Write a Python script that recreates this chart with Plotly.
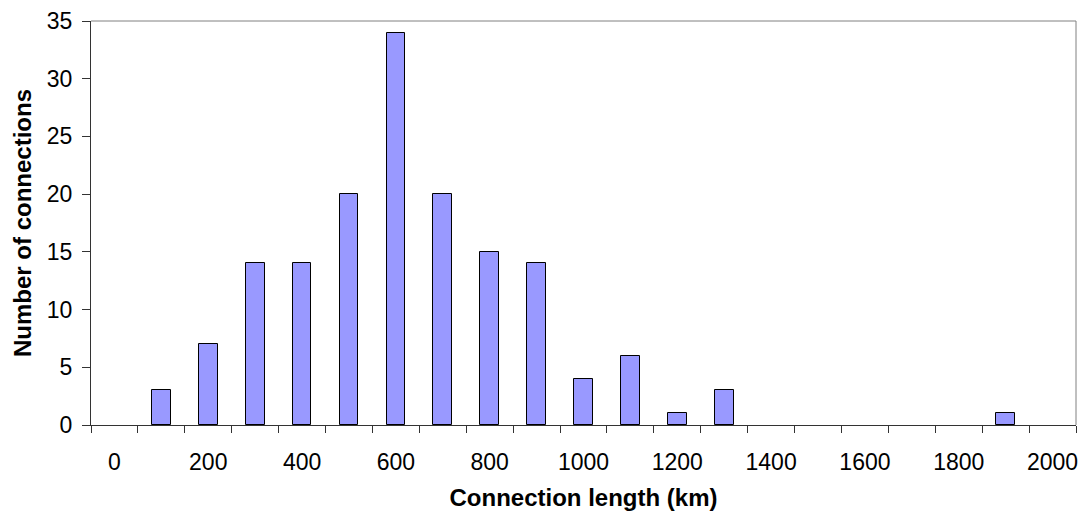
import plotly.graph_objects as go

# Histogram of connection lengths, 100 km bins
lengths_km = [0, 100, 200, 300, 400, 500, 600, 700, 800, 900, 1000,
              1100, 1200, 1300, 1400, 1500, 1600, 1700, 1800, 1900, 2000]
counts = [0, 3, 7, 14, 14, 20, 34, 20, 15, 14, 4,
          6, 1, 3, 0, 0, 0, 0, 0, 1, 0]
label_ticks = [0, 200, 400, 600, 800, 1000, 1200, 1400, 1600, 1800, 2000]
y_ticks = [0, 5, 10, 15, 20, 25, 30, 35]

FONT = "Liberation Sans, Arial, sans-serif"

# empty bins get no outline
outline_widths = [1 if c > 0 else 0 for c in counts]

fig = go.Figure()
fig.add_trace(go.Bar(
    x=lengths_km, y=counts, width=40,
    marker=dict(color="#9999FF", line=dict(color="#000000", width=outline_widths)),
    showlegend=False,
))

fig.update_layout(
    width=1090, height=513,
    margin=dict(l=91, r=14, t=21, b=88),
    paper_bgcolor="white", plot_bgcolor="white",
    font=dict(family=FONT, size=23, color="#000000"),
    bargap=0,
    xaxis=dict(
        range=[-50, 2050], tickmode="array", tickvals=label_ticks,
        ticktext=[str(v) for v in label_ticks],
        ticks="", showgrid=False, zeroline=False,
        showline=True, linecolor="#333333", linewidth=1,
        tickfont=dict(size=23), ticklabelstandoff=16,
        minor=dict(ticks="outside", tick0=-50, dtick=100, ticklen=7,
                   tickcolor="#333333", tickwidth=1, showgrid=False),
        title=dict(text="<b>Connection length (km)</b>", font=dict(size=24), standoff=15),
        automargin=False,
    ),
    yaxis=dict(
        range=[0, 35], tickmode="array", tickvals=y_ticks,
        ticks="outside", ticklen=8, tickcolor="#333333",
        showgrid=False, zeroline=False,
        showline=True, linecolor="#333333", linewidth=1,
        tickfont=dict(size=23), ticklabelstandoff=5,
        title=dict(text="<b>Number of connections</b>", font=dict(size=24), standoff=8),
        automargin=False,
    ),
)

# light frame on the top and right of the plot area
fig.add_shape(type="line", xref="paper", yref="paper", x0=0, x1=1, y0=1, y1=1,
              line=dict(color="#808080", width=1))
fig.add_shape(type="line", xref="paper", yref="paper", x0=1, x1=1, y0=0, y1=1,
              line=dict(color="#808080", width=1))

fig.write_html("out.html")
